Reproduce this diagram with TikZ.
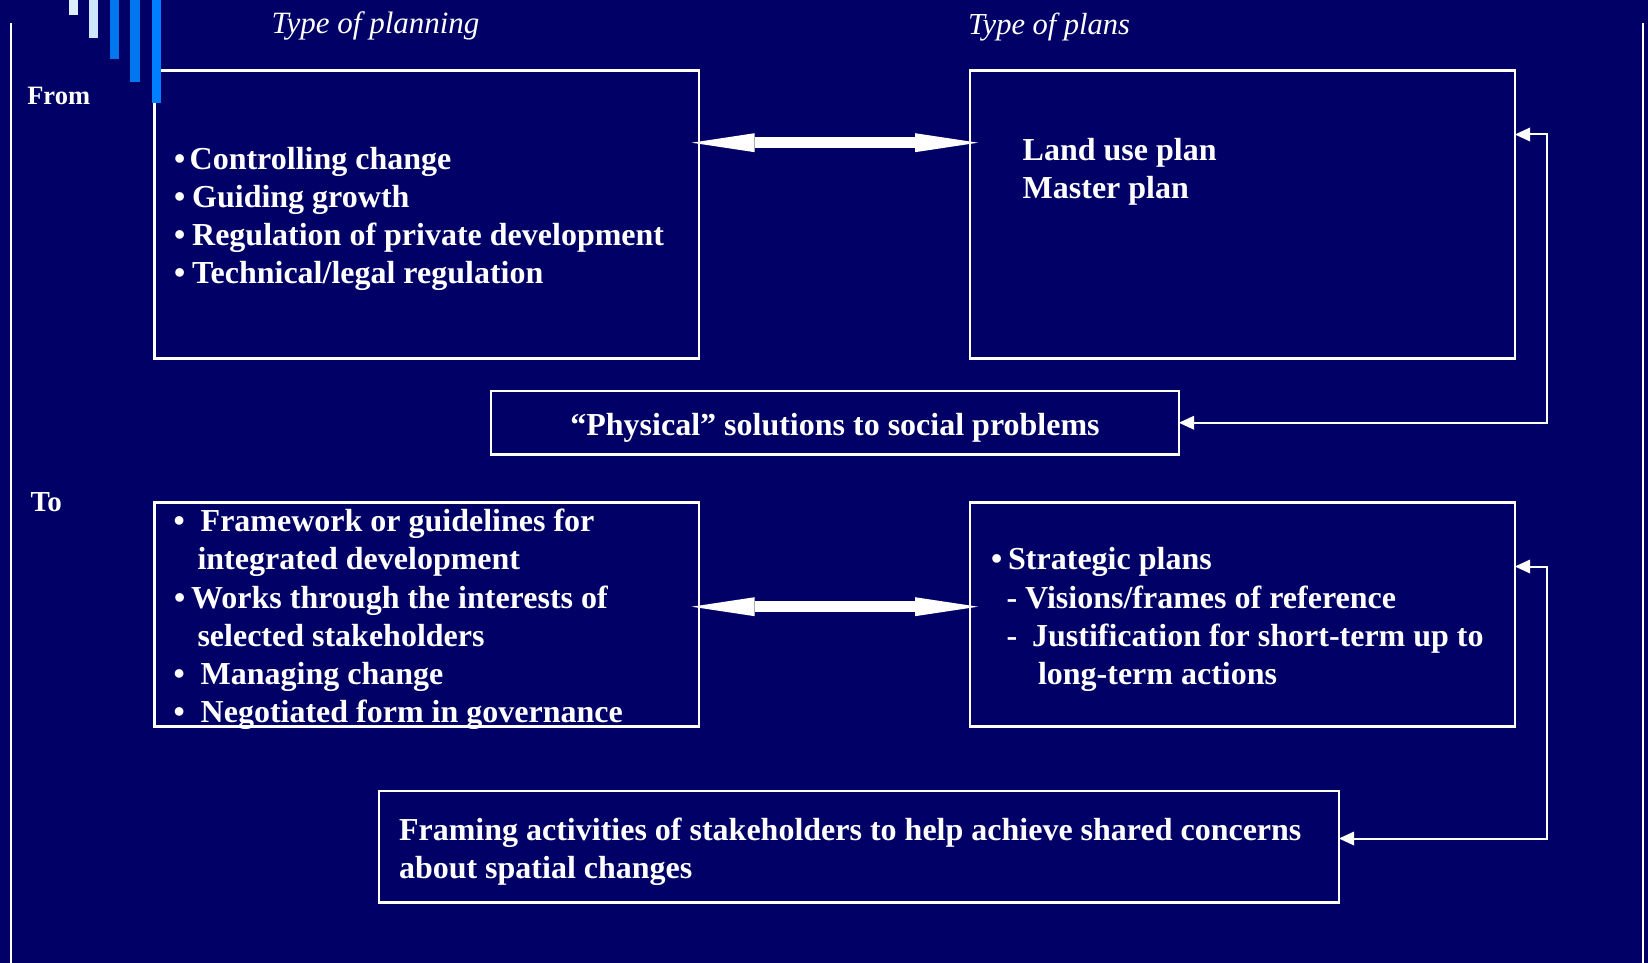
\documentclass[tikz,border=0pt]{standalone}
\usepackage{fontspec}
\setmainfont{Liberation Serif}
\usetikzlibrary{arrows.meta,calc}
\definecolor{bgnavy}{RGB}{0,0,102}
\definecolor{barpale}{RGB}{221,238,255}
\definecolor{barlight}{RGB}{204,230,255}
\definecolor{barblue}{RGB}{0,119,238}
\definecolor{barbright}{RGB}{0,128,255}
\begin{document}
\begin{tikzpicture}[x=1pt,y=-1pt,
  box/.style={draw=white,line width=2.5pt,inner sep=0pt,outer sep=0pt,anchor=north west},
  txt/.style={text=white,inner sep=0pt,outer sep=0pt,anchor=base west,font=\fontsize{32}{38}\selectfont\bfseries},
  head/.style={text=white,inner sep=0pt,outer sep=0pt,anchor=base west,font=\fontsize{31}{36}\selectfont\itshape},
  bigarr/.style={draw=white,line width=11pt,{Triangle[length=63pt,width=19pt,line width=0pt]}-{Triangle[length=63pt,width=19pt,line width=0pt]}},
  fbarr/.style={draw=white,line width=2pt,{Triangle[length=15pt,width=14pt,line width=0pt]}-{Triangle[length=15pt,width=14pt,line width=0pt]}},
  sideline/.style={draw=white,line width=2pt}
]
\fill[bgnavy] (0,0) rectangle (1648,963);
\useasboundingbox (0,0) rectangle (1648,963);

% side lines
\draw[sideline] (11,23) -- (11,963);
\draw[sideline] (1643,23) -- (1643,963);

% headings
\node[head] (hplanning) at (271.7,33.3) {Type of planning};
\node[head,font=\fontsize{30.5}{36}\selectfont\itshape] (hplans) at (968,35) {Type of plans};
\node[txt,font=\fontsize{26.5}{30}\selectfont\bfseries] (from) at (27.3,105) {From};
\node[txt,font=\fontsize{29}{34}\selectfont\bfseries] (to) at (30.6,511) {To};

% boxes
\node[box,minimum width=544.5pt,minimum height=288pt] (b1) at (154.5,70.5) {};
\node[box,minimum width=545pt,minimum height=288pt] (b2) at (970,70.5) {};
\node[box,minimum width=688pt,minimum height=63.5pt] (b3) at (491,391) {};
\node[box,minimum width=544.5pt,minimum height=224pt] (b4) at (154.5,502.5) {};
\node[box,minimum width=545pt,minimum height=224pt] (b5) at (970,502.5) {};
\node[box,minimum width=960pt,minimum height=111.5pt] (b6) at (379,791) {};

% box 1 text
\node[txt] (t11) at (174,169.5) {•\hspace{4.5pt}Controlling change};
\node[txt] (t12) at (174,207.5) {•\hspace{7pt}Guiding growth};
\node[txt] (t13) at (174,245.5) {•\hspace{7pt}Regulation of private development};
\node[txt] (t14) at (174,283.5) {•\hspace{7pt}Technical/legal regulation};

% box 2 text
\node[txt] (t21) at (1022.7,160) {Land use plan};
\node[txt] (t22) at (1022.7,198) {Master plan};

% box 3 text
\node[txt,anchor=base] (t31) at (835,435) {“Physical” solutions to social problems};

% box 4 text
\node[txt] (t41) at (173.5,531.5) {•\hspace{16pt}Framework or guidelines for};
\node[txt] (t42) at (197.5,569.5) {integrated development};
\node[txt] (t43) at (174,608) {•\hspace{6pt}Works through the interests of};
\node[txt] (t44) at (197.5,646) {selected stakeholders};
\node[txt] (t45) at (173.5,684) {•\hspace{16pt}Managing change};
\node[txt] (t46) at (173.5,722.5) {•\hspace{16pt}Negotiated form in governance};

% box 5 text
\node[txt] (t51) at (991,569) {•\hspace{6pt}Strategic plans};
\node[txt] (t52) at (1006.5,608) {-\hspace{8pt}Visions/frames of reference};
\node[txt] (t53) at (1006.5,646.5) {-\hspace{15pt}Justification for short-term up to};
\node[txt] (t54) at (1038,684) {long-term actions};

% box 6 text
\node[txt] (t61) at (399,840.5) {Framing activities of stakeholders to help achieve shared concerns};
\node[txt] (t62) at (399,878.5) {about spatial changes};

% double arrows
\draw[bigarr] ($(b1.north east)+(-7.3,72.2)$) -- ($(b2.north west)+(8,72.2)$);
\draw[bigarr] ($(b4.north east)+(-7.3,104.2)$) -- ($(b5.north west)+(8,104.2)$);

% feedback connectors
\draw[fbarr] ($(b2.north east)+(0,64)$) -- ++(32,0) |- (b3.east);
\draw[fbarr] ($(b5.north east)+(0,64)$) -- ++(32,0) |- ($(b6.north east)+(0,47.5)$);

% decorative bars
\fill[barpale] (69,0) rectangle (78,15);
\fill[barlight] (89,0) rectangle (98,38);
\fill[barblue] (110,0) rectangle (119,59);
\fill[barblue] (130,0) rectangle (140,82);
\fill[barbright] (152,0) rectangle (161,103);
\end{tikzpicture}
\end{document}
